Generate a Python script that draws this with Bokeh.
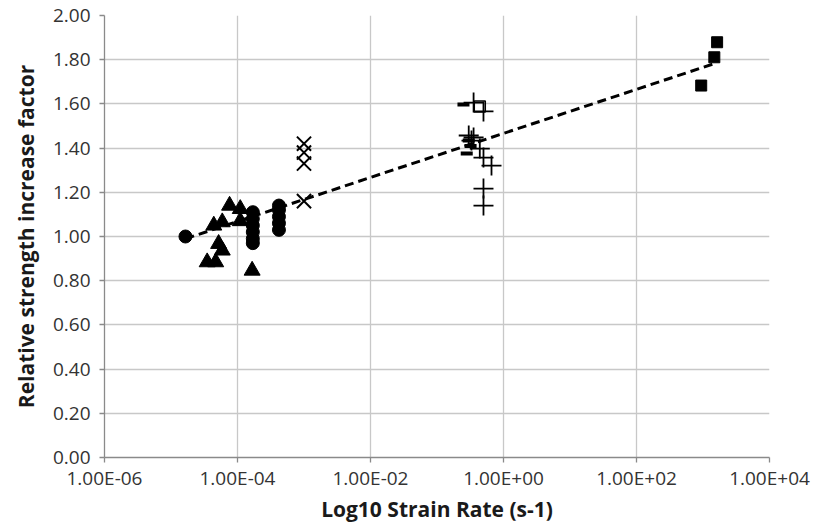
from bokeh.plotting import figure
from bokeh.models import (Range1d, FixedTicker, NumeralTickFormatter,
                          CustomJSTickFormatter, Title)
from bokeh.embed import file_html
from bokeh.resources import INLINE

# ---- data -------------------------------------------------------------
circle_x = [1.65e-5, 1.7e-4, 1.7e-4, 1.7e-4, 1.7e-4, 1.7e-4, 1.7e-4,
            4.2e-4, 4.2e-4, 4.2e-4, 4.2e-4, 4.2e-4]
circle_y = [1.00, 1.11, 1.08, 1.05, 1.02, 0.99, 0.97,
            1.14, 1.12, 1.09, 1.06, 1.03]

tri_x = [7.6e-5, 1.1e-4, 4.4e-5, 5.9e-5, 5.2e-5, 5.9e-5, 3.5e-5, 4.7e-5, 1.66e-4, 1.1e-4]
tri_y = [1.14, 1.125, 1.05, 1.065, 0.967, 0.937, 0.884, 0.884, 0.846, 1.07]

xmark_x = [1e-3, 1e-3, 1e-3, 1e-3]
xmark_y = [1.42, 1.38, 1.33, 1.16]

plus_x = [0.355, 0.50, 0.30, 0.355, 0.33, 0.44, 0.50, 0.66, 0.50, 0.50]
plus_y = [1.606, 1.566, 1.457, 1.448, 1.434, 1.398, 1.357, 1.321, 1.217, 1.14]

dash_x = [0.25, 0.30, 0.28, 0.32]
dash_y = [1.597, 1.434, 1.376, 1.41]

open_sq_x = [0.44]
open_sq_y = [1.588]

sq_x = [1630, 1480, 940]
sq_y = [1.879, 1.811, 1.683]

trend_x = [1.65e-5, 1400]
trend_y = [0.99, 1.78]

x_tick_values = [1e-6, 1e-4, 1e-2, 1e0, 1e2, 1e4]
x_tick_labels = ["1.00E-06", "1.00E-04", "1.00E-02", "1.00E+00", "1.00E+02", "1.00E+04"]
y_tick_values = [0.0, 0.2, 0.4, 0.6, 0.8, 1.0, 1.2, 1.4, 1.6, 1.8, 2.0]

x_title = "Log10 Strain Rate (s-1)"
y_title = "Relative strength increase factor"

# ---- figure -----------------------------------------------------------
FONT = "Open Sans"
p = figure(width=814, height=527, x_axis_type="log",
           x_range=Range1d(1e-6, 1e4), y_range=Range1d(0, 2),
           output_backend="svg", toolbar_location=None,
           min_border_left=104, min_border_right=45,
           min_border_top=15, min_border_bottom=70)
p.outline_line_color = None
p.background_fill_color = "white"
p.border_fill_color = "white"

for g in (p.xgrid, p.ygrid):
    g.grid_line_color = "#c8c8c8"
    g.grid_line_width = 1.3
p.xgrid.ticker = FixedTicker(ticks=x_tick_values)
p.ygrid.ticker = FixedTicker(ticks=y_tick_values)

xa = p.xaxis[0]
xa.ticker = FixedTicker(ticks=x_tick_values)
xa.formatter = CustomJSTickFormatter(
    args=dict(vals=x_tick_values, labs=x_tick_labels),
    code="""
    let best = 0, bd = 1e9;
    for (let i = 0; i < vals.length; i++) {
        const d = Math.abs(Math.log10(vals[i]) - Math.log10(tick));
        if (d < bd) { bd = d; best = i; }
    }
    return labs[best];
    """)
ya = p.yaxis[0]
ya.ticker = FixedTicker(ticks=y_tick_values)
ya.formatter = NumeralTickFormatter(format="0.00")

for ax in (xa, ya):
    ax.axis_line_color = "#8a8a8a"
    ax.axis_line_width = 1.3
    ax.major_tick_line_color = "#8a8a8a"
    ax.major_tick_line_width = 1.3
    ax.major_tick_out = 5
    ax.major_tick_in = 0
    ax.minor_tick_line_color = None
    ax.major_label_text_font = FONT
    ax.major_label_text_font_size = "19px"
    ax.major_label_text_color = "#333333"
    ax.axis_label_text_font = FONT
    ax.axis_label_text_font_size = "21px"
    ax.axis_label_text_font_style = "bold"
    ax.axis_label_text_color = "#1a1a1a"

xa.major_label_standoff = 2
xa.axis_label = x_title
xa.axis_label_standoff = 1
ya.major_label_standoff = 9

# y-axis title
p.add_layout(Title(text=y_title, align="center", standoff=19,
                   text_font=FONT, text_font_size="21px",
                   text_font_style="bold", text_color="#1a1a1a"), "left")

# ---- glyphs -----------------------------------------------------------
p.line(trend_x, trend_y, line_color="black", line_width=3, line_dash="9 5")

p.scatter(circle_x, circle_y, marker="circle", size=13,
          fill_color="black", line_color="black")
p.scatter(tri_x, tri_y, marker="triangle", size=16,
          fill_color="black", line_color="black")
p.scatter(xmark_x, xmark_y, marker="x", size=20,
          line_color="black", line_width=2)
p.scatter(plus_x, plus_y, marker="cross", size=20,
          line_color="black", line_width=1.8)
p.scatter(dash_x, dash_y, marker="dash", size=12,
          line_color="black", line_width=4)
p.scatter(open_sq_x, open_sq_y, marker="square", size=11,
          fill_color=None, line_color="black", line_width=1.5)
p.scatter(sq_x, sq_y, marker="square", size=11,
          fill_color="black", line_color="black")

open("out.html", "w").write(file_html(p, INLINE))
